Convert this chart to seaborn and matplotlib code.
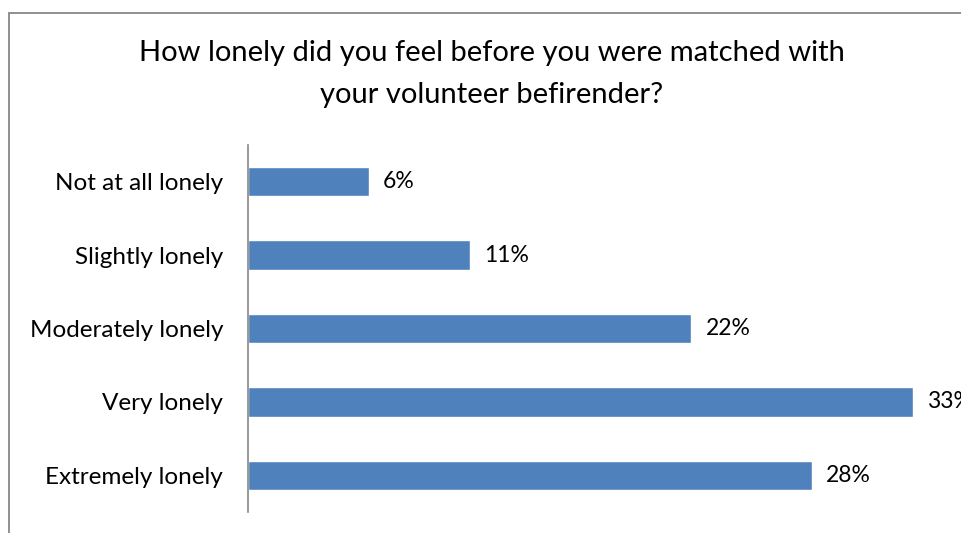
import matplotlib
matplotlib.use("Agg")
import matplotlib.pyplot as plt
import matplotlib.patches as mpatches
import seaborn as sns
import pandas as pd

categories = ["Not at all lonely", "Slightly lonely", "Moderately lonely",
              "Very lonely", "Extremely lonely"]
values = [6, 11, 22, 33, 28]
value_labels = ["6%", "11%", "22%", "33%", "28%"]

sns.set_theme(style="white")
plt.rcParams["font.family"] = ["Lato", "DejaVu Sans"]

df = pd.DataFrame({"category": categories, "value": values})

W, H = 961, 533
fig = plt.figure(figsize=(W / 100, H / 100), dpi=100)

# plot area: value axis starts at x=248 px, category band 145..512 px
ax = fig.add_axes([248 / W, 1 - 512 / H, (W - 248) / W, (512 - 145) / H])
sns.barplot(data=df, x="value", y="category", orient="h", color="#4F81BD",
            saturation=1, width=0.4, ax=ax)

px_per_unit = 20.15
ax.set_xlim(0, (W - 248) / px_per_unit)
ax.set_ylim(4.5, -0.5)

for i, (v, lab) in enumerate(zip(values, value_labels)):
    ax.text(v + 0.7, i, lab, va="center", ha="left", fontsize=16.5,
            color="black", clip_on=False)

for s in ["top", "right", "bottom"]:
    ax.spines[s].set_visible(False)
ax.spines["left"].set_color("#868686")
ax.spines["left"].set_linewidth(1.2)
ax.set_xticks([])
ax.set_xlabel("")
ax.set_ylabel("")
ax.tick_params(axis="y", length=0, pad=18, labelsize=17.5, labelcolor="black")

fig.text(492 / W, 1 - 53 / H, "How lonely did you feel before you were matched with",
         ha="center", va="center", fontsize=21, color="black")
fig.text(492 / W, 1 - 95 / H, "your volunteer befirender?",
         ha="center", va="center", fontsize=21, color="black")

# chart frame
frame = mpatches.Rectangle((8.5 / W, -0.1), 1.2, 1.1 - 12.5 / H, transform=fig.transFigure,
                           fill=False, edgecolor="#878787", linewidth=1.3)
fig.patches.append(frame)

fig.savefig("out.png", dpi=100)
